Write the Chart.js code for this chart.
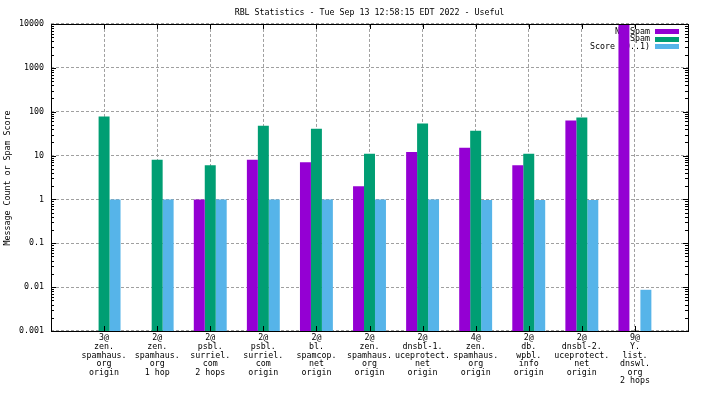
<!DOCTYPE html>
<html>
<head>
<meta charset="utf-8">
<script src="https://cdn.jsdelivr.net/npm/chart.js@4/dist/chart.umd.min.js"></script>
<style>
  html, body { margin: 0; padding: 0; background: #fff; }
  #wrap { width: 704px; height: 396px; }
</style>
</head>
<body>
<div id="wrap"><canvas id="rblChart" width="704" height="396"></canvas></div>
<script>
// RBL statistics, one group per list
var categories = [
    ['3@', 'zen.', 'spamhaus.', 'org', 'origin'],
    ['2@', 'zen.', 'spamhaus.', 'org', '1 hop'],
    ['2@', 'psbl.', 'surriel.', 'com', '2 hops'],
    ['2@', 'psbl.', 'surriel.', 'com', 'origin'],
    ['2@', 'bl.', 'spamcop.', 'net', 'origin'],
    ['2@', 'zen.', 'spamhaus.', 'org', 'origin'],
    ['2@', 'dnsbl-1.', 'uceprotect.', 'net', 'origin'],
    ['4@', 'zen.', 'spamhaus.', 'org', 'origin'],
    ['2@', 'db.', 'wpbl.', 'info', 'origin'],
    ['2@', 'dnsbl-2.', 'uceprotect.', 'net', 'origin'],
    ['9@', 'Y.', 'list.', 'dnswl.', 'org', '2 hops']
];
var noSpam = [null, null, 1, 8, 7, 2, 12, 15, 6, 63, 20000];
var spam   = [78, 8, 6, 48, 41, 11, 54, 37, 11, 74, null];
var score  = [1, 1, 1, 1, 1, 1, 1, 0.97, 0.97, 0.97, 0.0087];
var yTicks = [0.001, 0.01, 0.1, 1, 10, 100, 1000, 10000];

var seriesNames = ['No Spam', 'Spam', 'Score (0..1)'];
var colors = ['#9400d3', '#009e73', '#56b4e9'];

// empty slot on each side so the groups sit one step in from the border
function pad(arr) { return [null].concat(arr, [null]); }

var FONT = { family: 'DejaVu Sans Mono', size: 8.3, lineHeight: 1.03 };

var boxPlugin = {
    id: 'boxPlugin',
    beforeDatasetsDraw: function (chart) {
        // key, drawn under the bars like gnuplot does
        var ctx = chart.ctx;
        ctx.save();
        ctx.font = '8.3px "DejaVu Sans Mono"';
        ctx.textAlign = 'right';
        ctx.textBaseline = 'middle';
        ctx.fillStyle = '#000';
        for (var i = 0; i < seriesNames.length; i++) {
            var cy = 31.5 + i * 7.7;
            ctx.fillText(seriesNames[i], 650, cy);
            ctx.fillStyle = colors[i];
            ctx.fillRect(655, Math.round(cy - 2.5), 24, 5);
            ctx.fillStyle = '#000';
        }
        ctx.restore();
    },
    afterDatasetsDraw: function (chart) {
        var ctx = chart.ctx;
        var a = chart.chartArea;
        var y = chart.scales.y;
        var x = chart.scales.x;
        ctx.save();
        ctx.strokeStyle = '#000';
        ctx.lineWidth = 1;
        ctx.beginPath();
        // y tics, major and minor, on both sides
        for (var e = -3; e <= 4; e++) {
            var py = Math.round(y.getPixelForValue(Math.pow(10, e))) + 0.5;
            ctx.moveTo(a.left, py); ctx.lineTo(a.left + 5, py);
            ctx.moveTo(a.right, py); ctx.lineTo(a.right - 5, py);
            if (e < 4) {
                for (var m = 2; m <= 9; m++) {
                    var pm = Math.round(y.getPixelForValue(m * Math.pow(10, e))) + 0.5;
                    ctx.moveTo(a.left, pm); ctx.lineTo(a.left + 3, pm);
                    ctx.moveTo(a.right, pm); ctx.lineTo(a.right - 3, pm);
                }
            }
        }
        // x tics at each group
        for (var i = 1; i <= categories.length; i++) {
            var px = Math.round(x.getPixelForValue(i)) + 0.5;
            ctx.moveTo(px, a.bottom); ctx.lineTo(px, a.bottom - 5);
            ctx.moveTo(px, a.top); ctx.lineTo(px, a.top + 5);
        }
        ctx.stroke();
        ctx.strokeRect(Math.round(a.left) + 0.5, Math.round(a.top) + 0.5,
            Math.round(a.right - a.left), Math.round(a.bottom - a.top));
        ctx.restore();
    },
    afterDraw: function (chart) {
        var ctx = chart.ctx;
        ctx.save();
        ctx.font = '8.3px "DejaVu Sans Mono"';
        ctx.fillStyle = '#000';
        ctx.textAlign = 'center';
        ctx.textBaseline = 'middle';
        ctx.translate(8, 178);
        ctx.rotate(-Math.PI / 2);
        ctx.fillText('Message Count or Spam Score', 0, 0);
        ctx.restore();
    }
};

var ctx = document.getElementById('rblChart').getContext('2d');
var chart = new Chart(ctx, {
    type: 'bar',
    data: {
        labels: pad(categories).map(function (c) { return c || ''; }),
        datasets: [
            { label: seriesNames[0], data: pad(noSpam), backgroundColor: colors[0] },
            { label: seriesNames[1], data: pad(spam), backgroundColor: colors[1] },
            { label: seriesNames[2], data: pad(score), backgroundColor: colors[2] }
        ]
    },
    options: {
        responsive: false,
        animation: false,
        layout: { padding: { left: 0, right: 16, top: 0, bottom: 0 } },
        datasets: {
            bar: { barPercentage: 1, categoryPercentage: 0.62, borderWidth: 0 }
        },
        plugins: {
            legend: { display: false },
            tooltip: { enabled: false },
            title: {
                display: true,
                fullSize: false,
                text: 'RBL Statistics - Tue Sep 13 12:58:15 EDT 2022 - Useful',
                color: '#000',
                font: { family: 'DejaVu Sans Mono', size: 8.3, weight: 'normal', lineHeight: 1.2 },
                padding: { top: 8, bottom: 6 }
            }
        },
        scales: {
            x: {
                type: 'category',
                offset: false,
                grid: {
                    offset: false,
                    drawTicks: false,
                    color: function (c) {
                        return (c.index === 0 || c.index === categories.length + 1) ? 'rgba(0,0,0,0)' : '#a0a0a0';
                    }
                },
                border: { display: false, dash: [3, 2] },
                ticks: {
                    color: '#000',
                    font: FONT,
                    padding: 3,
                    autoSkip: false,
                    maxRotation: 0,
                    minRotation: 0
                },
                afterFit: function (s) { s.height = 65; }
            },
            y: {
                type: 'logarithmic',
                min: 0.001,
                max: 10000,
                grid: { drawTicks: false, color: '#a0a0a0' },
                border: { display: false, dash: [3, 2] },
                afterBuildTicks: function (s) {
                    s.ticks = yTicks.map(function (v) { return { value: v }; });
                },
                ticks: {
                    color: '#000',
                    font: FONT,
                    padding: 7,
                    autoSkip: false,
                    callback: function (v) { return String(v); }
                },
                afterFit: function (s) { s.width = 51; }
            }
        }
    },
    plugins: [boxPlugin]
});
</script>
</body>
</html>
